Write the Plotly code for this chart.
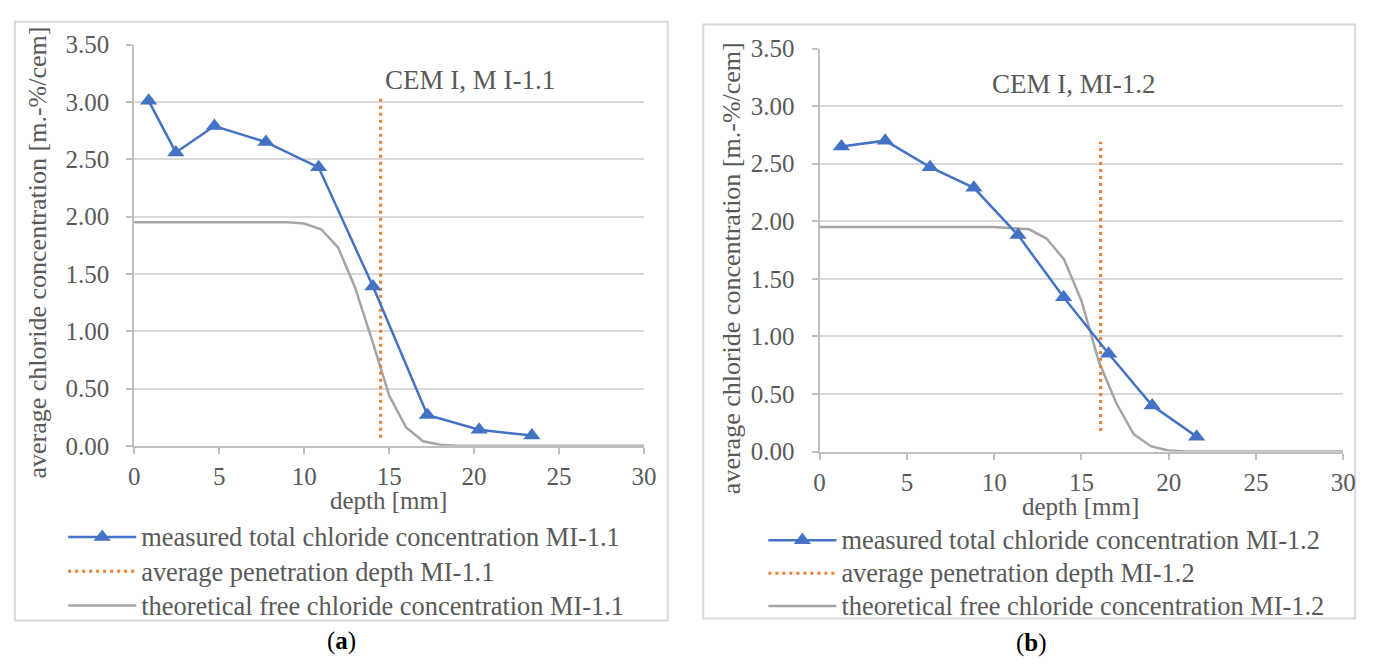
import plotly.graph_objects as go

# ---------------- data ----------------
depth_grid = [0, 1, 2, 3, 4, 5, 6, 7, 8, 9, 10, 11, 12, 13, 14, 15,
              16, 17, 18, 19, 20, 21, 22, 23, 24, 25, 26, 27, 28, 29, 30]

# panel (a) MI-1.1
a_meas_depth = [0.85, 2.45, 4.72, 7.75, 10.85, 14.05, 17.25, 20.3, 23.4]
a_meas_conc = [3.01, 2.56, 2.79, 2.65, 2.43, 1.39, 0.27, 0.14, 0.09]
a_pen_depth = [14.5, 14.5]
a_pen_conc = [0.07, 3.03]
a_free_conc = [1.95, 1.95, 1.95, 1.95, 1.95, 1.95, 1.95, 1.95, 1.95, 1.95,
               1.94, 1.89, 1.73, 1.38, 0.92, 0.44, 0.16, 0.04, 0.01, 0.0,
               0.0, 0.0, 0.0, 0.0, 0.0, 0.0, 0.0, 0.0, 0.0, 0.0, 0.0]

# panel (b) MI-1.2
b_meas_depth = [1.25, 3.76, 6.33, 8.84, 11.37, 13.98, 16.56, 19.05, 21.6]
b_meas_conc = [2.65, 2.70, 2.47, 2.29, 1.88, 1.34, 0.85, 0.40, 0.13]
b_pen_depth = [16.1, 16.1]
b_pen_conc = [0.18, 2.69]
b_free_conc = [1.95, 1.95, 1.95, 1.95, 1.95, 1.95, 1.95, 1.95, 1.95, 1.95,
               1.95, 1.94, 1.93, 1.85, 1.67, 1.31, 0.78, 0.42, 0.15, 0.045,
               0.01, 0.0, 0.0, 0.0, 0.0, 0.0, 0.0, 0.0, 0.0, 0.0, 0.0]

x_ticks = [0, 5, 10, 15, 20, 25, 30]
y_ticks = [0.0, 0.5, 1.0, 1.5, 2.0, 2.5, 3.0, 3.5]

# ---------------- style ----------------
W, H = 1375, 671
FONT = "Liberation Serif"
TXT = "#595959"
BLUE = "#4472C4"
ORANGE = "#ED7D31"
GRAY = "#A5A5A5"
GRID = "#D9D9D9"
AXIS = "#BFBFBF"


def px(x):
    return x / W


def py(y):
    return 1 - y / H


def big(s):
    return '<span style="font-size:26.4px">' + s + "</span>"


fig = go.Figure()

panels = [
    dict(xa="x", ya="y", leg="legend", sfx="MI-1.1",
         md=a_meas_depth, mc=a_meas_conc, pd=a_pen_depth, pc=a_pen_conc, fc=a_free_conc),
    dict(xa="x2", ya="y2", leg="legend2", sfx="MI-1.2",
         md=b_meas_depth, mc=b_meas_conc, pd=b_pen_depth, pc=b_pen_conc, fc=b_free_conc),
]

for p in panels:
    fig.add_trace(go.Scatter(
        x=depth_grid, y=p["fc"], mode="lines", xaxis=p["xa"], yaxis=p["ya"],
        line=dict(color=GRAY, width=2.5), legend=p["leg"], legendrank=3,
        name=big("theoretical free chloride concentration " + p["sfx"])))
    fig.add_trace(go.Scatter(
        x=p["pd"], y=p["pc"], mode="lines", xaxis=p["xa"], yaxis=p["ya"],
        line=dict(color=ORANGE, width=3, dash="3px,4px"), legend=p["leg"], legendrank=2,
        name=big("average penetration depth " + p["sfx"])))
    fig.add_trace(go.Scatter(
        x=p["md"], y=p["mc"], mode="lines+markers", xaxis=p["xa"], yaxis=p["ya"],
        line=dict(color=BLUE, width=2.5),
        marker=dict(symbol="triangle-up", size=15, color=BLUE),
        legend=p["leg"], legendrank=1,
        name=big("measured total chloride concentration " + p["sfx"])))

axis_common = dict(
    showline=True, linecolor=AXIS, linewidth=2,
    ticks="outside", ticklen=6, tickcolor=AXIS, tickwidth=2,
    tickfont=dict(family=FONT, size=25, color=TXT),
    zeroline=False, fixedrange=True,
)

fig.update_layout(
    width=W, height=H, margin=dict(l=0, r=0, t=0, b=0),
    paper_bgcolor="white", plot_bgcolor="white",
    font=dict(family=FONT, color=TXT, size=25),
    xaxis=dict(domain=[px(130), px(647)], range=[0, 30], tickvals=x_ticks,
               showgrid=False, anchor="y", ticklabelstandoff=1, **axis_common),
    yaxis=dict(domain=[py(451), py(33)], range=[0, 3.5], tickvals=y_ticks,
               tickformat=".2f", showgrid=True, gridcolor=GRID, gridwidth=2,
               ticklabelstandoff=12, anchor="x", **axis_common),
    xaxis2=dict(domain=[px(825), px(1356)], range=[0, 30], tickvals=x_ticks,
                showgrid=False, anchor="y2", ticklabelstandoff=1, **axis_common),
    yaxis2=dict(domain=[py(457), py(37)], range=[0, 3.5], tickvals=y_ticks,
                tickformat=".2f", showgrid=True, gridcolor=GRID, gridwidth=2,
                ticklabelstandoff=12, anchor="x2", **axis_common),
    legend=dict(x=px(58), y=py(523), xanchor="left", yanchor="top",
                font=dict(family=FONT, size=24, color=TXT), itemwidth=68,
                bgcolor="rgba(0,0,0,0)", traceorder="normal"),
    legend2=dict(x=px(768), y=py(527), xanchor="left", yanchor="top",
                 font=dict(family=FONT, size=23, color=TXT), itemwidth=68,
                 bgcolor="rgba(0,0,0,0)", traceorder="normal"),
    showlegend=True,
)

# panel frames
fig.add_shape(type="rect", xref="paper", yref="paper",
              x0=px(9), x1=px(671), y0=py(633), y1=py(9),
              line=dict(color=GRID, width=2), layer="below")
fig.add_shape(type="rect", xref="paper", yref="paper",
              x0=px(707), x1=px(1368), y0=py(631), y1=py(12),
              line=dict(color=GRID, width=2), layer="below")

ann = []


def add_text(text, x, y, size=26, color=TXT, angle=0):
    ann.append(dict(text=text, x=px(x), y=py(y), xref="paper", yref="paper",
                    xanchor="center", yanchor="middle", showarrow=False,
                    textangle=angle, font=dict(family=FONT, size=size, color=color)))


# panel labels inside plots
add_text("CEM I, M I-1.1", 471, 70, size=27)
add_text("CEM I, MI-1.2", 1083, 74, size=27)
# axis titles
add_text("depth [mm]", 388, 508, size=25)
add_text("depth [mm]", 1090, 514, size=25)
add_text("average chloride concentration [m.-%/cem]", 32, 250, angle=-90)
add_text("average chloride concentration [m.-%/cem]", 735, 266, angle=-90)
# captions
add_text("(<b>a</b>)", 340, 654, size=25, color="black")
add_text("(<b>b</b>)", 1040, 656, size=25, color="black")
fig.update_layout(annotations=ann)

fig.write_html("out.html")
